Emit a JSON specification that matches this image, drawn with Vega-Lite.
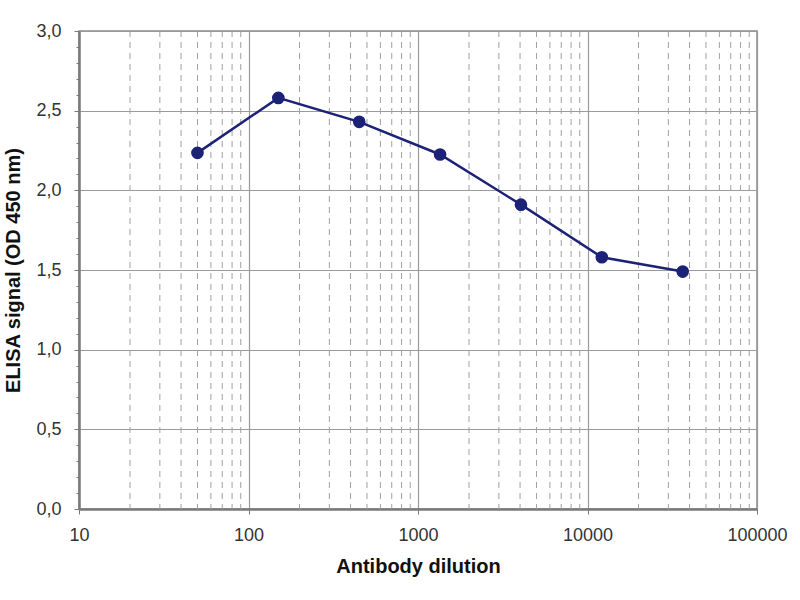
{
  "$schema": "https://vega.github.io/schema/vega-lite/v6.json",
  "width": 678,
  "height": 478,
  "autosize": "none",
  "padding": {"left": 79, "top": 31, "right": 43, "bottom": 91},
  "background": "white",
  "config": {
    "font": "Liberation Sans",
    "locale": {"number": {"decimal": ",", "thousands": ".", "grouping": [3], "currency": ["", " €"]}},
    "view": {"stroke": "#8a8a8a", "strokeWidth": 1.5}
  },
  "datasets": {
    "signal": [
      {"dilution": 50, "od": 2.235},
      {"dilution": 150, "od": 2.58},
      {"dilution": 450, "od": 2.43},
      {"dilution": 1350, "od": 2.225},
      {"dilution": 4050, "od": 1.91},
      {"dilution": 12150, "od": 1.58},
      {"dilution": 36450, "od": 1.49}
    ],
    "minorx": [
      {"v": 20}, {"v": 30}, {"v": 40}, {"v": 50}, {"v": 60}, {"v": 70}, {"v": 80}, {"v": 90},
      {"v": 200}, {"v": 300}, {"v": 400}, {"v": 500}, {"v": 600}, {"v": 700}, {"v": 800}, {"v": 900},
      {"v": 2000}, {"v": 3000}, {"v": 4000}, {"v": 5000}, {"v": 6000}, {"v": 7000}, {"v": 8000}, {"v": 9000},
      {"v": 20000}, {"v": 30000}, {"v": 40000}, {"v": 50000}, {"v": 60000}, {"v": 70000}, {"v": 80000}, {"v": 90000}
    ],
    "minory": [
      {"t": 0.1}, {"t": 0.2}, {"t": 0.3}, {"t": 0.4}, {"t": 0.6}, {"t": 0.7}, {"t": 0.8}, {"t": 0.9},
      {"t": 1.1}, {"t": 1.2}, {"t": 1.3}, {"t": 1.4}, {"t": 1.6}, {"t": 1.7}, {"t": 1.8}, {"t": 1.9},
      {"t": 2.1}, {"t": 2.2}, {"t": 2.3}, {"t": 2.4}, {"t": 2.6}, {"t": 2.7}, {"t": 2.8}, {"t": 2.9}
    ]
  },
  "resolve": {"axis": {"y": "independent"}},
  "layer": [
    {
      "data": {"name": "minorx"},
      "mark": {"type": "rule", "color": "#a0a0a0", "strokeDash": [6, 5], "strokeWidth": 1},
      "encoding": {
        "x": {
          "field": "v", "type": "quantitative",
          "scale": {"type": "log", "domain": [10, 100000]},
          "axis": {"values": [10, 100, 1000, 10000, 100000], "format": "d", "title": "Antibody dilution",
            "grid": true, "gridColor": "#9a9a9a", "gridWidth": 1.2, "labelFlush": false, "labelOverlap": false,
            "domainColor": "#7a7a7a", "domainWidth": 2.5, "tickColor": "#7a7a7a", "tickSize": 5,
            "labelFontSize": 18, "labelColor": "#333", "labelPadding": 12,
            "titleFontSize": 20, "titleFontWeight": "bold", "titleColor": "#111", "titlePadding": 12}
        }
      }
    },
    {
      "data": {"name": "minory"},
      "mark": {"type": "rule", "opacity": 0},
      "encoding": {
        "y": {
          "field": "t", "type": "quantitative",
          "scale": {"domain": [0, 3]},
          "axis": {"orient": "left", "values": [0.1, 0.2, 0.3, 0.4, 0.6, 0.7, 0.8, 0.9, 1.1, 1.2, 1.3, 1.4, 1.6, 1.7, 1.8, 1.9, 2.1, 2.2, 2.3, 2.4, 2.6, 2.7, 2.8, 2.9],
            "labels": false, "grid": false, "domain": false, "title": null, "tickSize": 3, "tickColor": "#7a7a7a"}
        }
      }
    },
    {
      "data": {"name": "signal"},
      "encoding": {
        "x": {
          "field": "dilution", "type": "quantitative",
          "scale": {"type": "log", "domain": [10, 100000]},
          "axis": {"values": [10, 100, 1000, 10000, 100000], "format": "d", "title": "Antibody dilution",
            "grid": true, "gridColor": "#9a9a9a", "gridWidth": 1.2, "labelFlush": false, "labelOverlap": false,
            "domainColor": "#7a7a7a", "domainWidth": 2.5, "tickColor": "#7a7a7a", "tickSize": 5,
            "labelFontSize": 18, "labelColor": "#333", "labelPadding": 12,
            "titleFontSize": 20, "titleFontWeight": "bold", "titleColor": "#111", "titlePadding": 12}
        },
        "y": {
          "field": "od", "type": "quantitative",
          "scale": {"domain": [0, 3]},
          "axis": {"orient": "left", "values": [0, 0.5, 1, 1.5, 2, 2.5, 3], "format": ".1f", "title": "ELISA signal (OD 450 nm)",
            "grid": true, "gridColor": "#9a9a9a", "gridWidth": 1.2, "labelFlush": false, "labelOverlap": false,
            "domainColor": "#7a7a7a", "domainWidth": 2.5, "tickColor": "#7a7a7a", "tickSize": 5,
            "labelFontSize": 18, "labelColor": "#333", "labelPadding": 13,
            "titleFontSize": 20, "titleFontWeight": "bold", "titleColor": "#111", "titlePadding": 12}
        }
      },
      "layer": [
        {"mark": {"type": "line", "color": "#1c2277", "strokeWidth": 2.5}},
        {"mark": {"type": "point", "filled": true, "color": "#1c2277", "size": 160, "opacity": 1}}
      ]
    }
  ]
}
